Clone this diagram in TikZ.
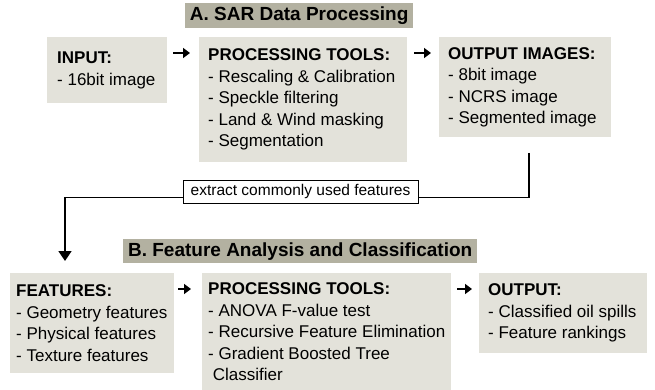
\documentclass[tikz,border=0pt]{standalone}
\usepackage{fontspec}
\setmainfont{Liberation Sans}
\usetikzlibrary{arrows.meta,calc}
\definecolor{boxfill}{HTML}{E3E2DA}
\definecolor{titlefill}{HTML}{B3B1A1}
\begin{document}
\begin{tikzpicture}[x=1pt,y=-1pt,
  boxbg/.style={fill=boxfill, anchor=north west, inner sep=0pt},
  txt/.style={anchor=west, inner sep=0pt, align=left, font=\fontsize{17}{21.5}\selectfont},
  ttl/.style={fill=titlefill, anchor=north west, inner sep=0pt, font=\bfseries\fontsize{19}{22}\selectfont},
  sarrow/.style={line width=2pt, -{Triangle[width=10pt,length=7pt]}},
  conn/.style={line width=1.8pt},
  lbl/.style={draw, fill=white, line width=1pt, inner sep=0pt, font=\fontsize{15.5}{18}\selectfont},
]
\useasboundingbox (0,0) rectangle (655,390);

% Section A
\node[ttl, minimum width=228pt, minimum height=25pt] (titleA) at (185,3) {A. SAR Data Processing};
\node[boxbg, minimum width=120pt, minimum height=66pt] (inA) at (47,37) {};
\node[txt] (inAt) at ($(inA.west)+(10,0)$) {\textbf{INPUT:}\\- 16bit image};
\node[boxbg, minimum width=208pt, minimum height=125pt] (procA) at (199,37) {};
\node[txt] (procAt) at ($(procA.west)+(9,0)$) {\textbf{PROCESSING TOOLS:}\\- Rescaling \& Calibration\\- Speckle filtering\\- Land \& Wind masking\\- Segmentation};
\node[boxbg, minimum width=172pt, minimum height=100pt] (outA) at (439,37) {};
\node[txt] (outAt) at ($(outA.west)+(9,0)$) {\textbf{OUTPUT IMAGES:}\\- 8bit image\\- NCRS image\\- Segmented image};

\draw[sarrow] ($(inA.north east)+(6,16)$) -- ($(procA.north west)+(-9,16)$);
\draw[sarrow] ($(procA.north east)+(7,16)$) -- ($(outA.north west)+(-8,16)$);

% connector
\node[lbl, minimum width=235pt, minimum height=23pt] (lbl) at (300.5,191.5) {extract commonly used features};
\coordinate (c1) at (529,153);
\coordinate (c2) at (65,261);
\draw[conn] (c1) |- ($(lbl.south east)+(0,-6)$);
\draw[conn, -{Triangle[width=13pt,length=10pt]}] ($(lbl.south west)+(0,-6)$) -| (c2);

% Section B
\node[ttl, minimum width=354pt, minimum height=24pt] (titleB) at (123,239) {B. Feature Analysis and Classification};
\node[boxbg, minimum width=164pt, minimum height=100pt] (feat) at (10,273) {};
\node[txt] (featt) at ($(feat.west)+(6,0)$) {\textbf{FEATURES:}\\- Geometry features\\- Physical features\\- Texture features};
\node[boxbg, minimum width=249pt, minimum height=117pt] (procB) at (202,273) {};
\node[txt] (procBt) at ($(procB.west)+(6,0)$) {\textbf{PROCESSING TOOLS:}\\- ANOVA F-value test\\- Recursive Feature Elimination\\- Gradient Boosted Tree\\\hspace*{4.7pt}Classifier};
\node[boxbg, minimum width=168pt, minimum height=80pt] (outB) at (479,273) {};
\node[txt] (outBt) at ($(outB.west)+(9,0)$) {\textbf{OUTPUT:}\\- Classified oil spills\\- Feature rankings};

\draw[sarrow] ($(feat.north east)+(4,16)$) -- ($(procB.north west)+(-11,16)$);
\draw[sarrow] ($(procB.north east)+(6,16)$) -- ($(outB.north west)+(-7,16)$);
\end{tikzpicture}
\end{document}
